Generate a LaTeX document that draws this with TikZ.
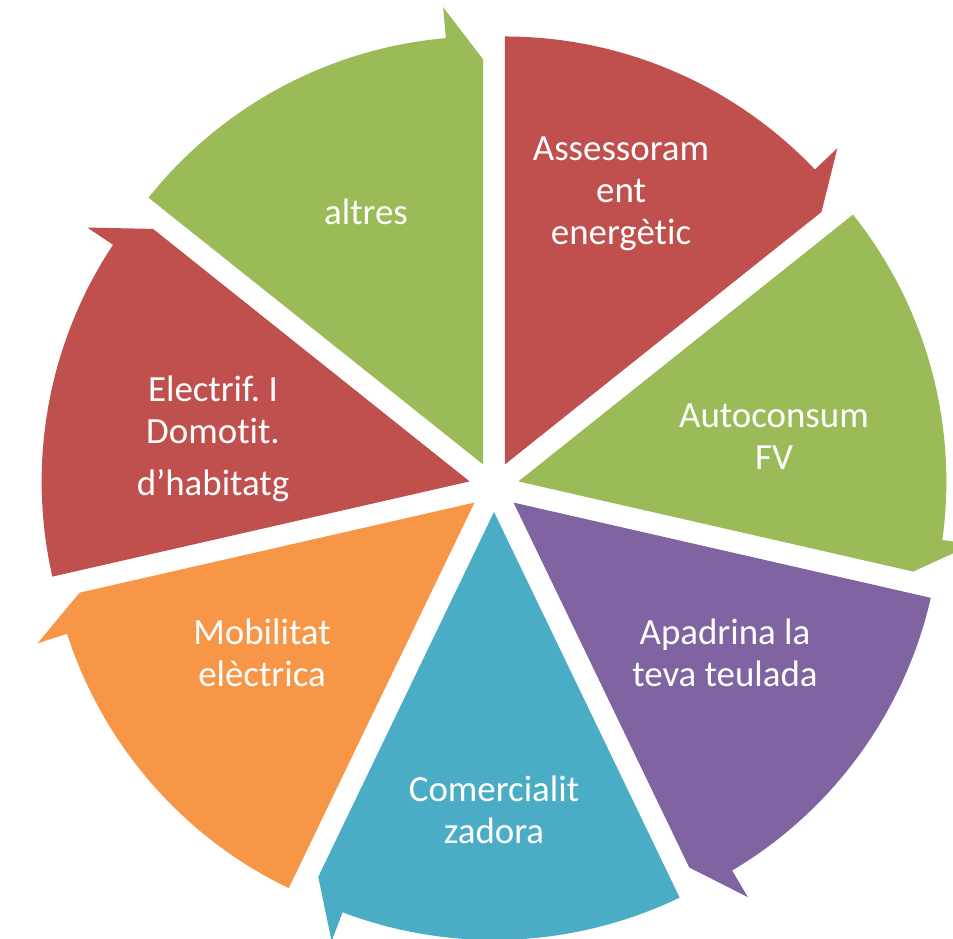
\documentclass[tikz,border=0pt]{standalone}
\usepackage{fontspec}
\setmainfont{Carlito}[Ligatures=NoCommon]
\usepackage{tikz}
\usetikzlibrary{calc}
\definecolor{segRed}{HTML}{C0504D}
\definecolor{segGreen}{HTML}{9BBB59}
\definecolor{segPurple}{HTML}{8064A2}
\definecolor{segCyan}{HTML}{4BACC6}
\definecolor{segOrange}{HTML}{F79646}
\frenchspacing

\begin{document}
\begin{tikzpicture}[x=0.02cm,y=0.02cm,
        segtext/.style={text=white,align=center,font=\fontsize{21}{24}\selectfont}]
        \useasboundingbox (0,0) rectangle (953,938);
        \coordinate (Centre) at (494,451);
        \foreach \cor [count=\k from 0] in {segGreen,segRed,segGreen,segPurple,segCyan,segOrange,segRed} {
            \pgfmathsetmacro{\ini}{141.43-51.43*\k}
            \pgfmathsetmacro{\fim}{\ini-51.43}
            \pgfmathsetmacro{\meio}{\ini-25.71}
            \fill [\cor,shift={($(Centre)+(\meio:25)$)}] (0,0) -- (\ini:428)
                arc [start angle=\ini,end angle=\fim+5,radius=428]
                -- (\fim+5:459) -- (\fim:405) -- cycle;
        }
        \node [segtext] (Altres) at (366,726) {altres};
        \node [segtext] (Assessorament) at (621,744) {Assessoram\\ent\\energètic};
        \node [segtext] (Autoconsum) at (774,501) {Autoconsum\\FV};
        \node [segtext] (Apadrina) at (725,285) {Apadrina la\\teva teulada};
        \node [segtext] (Comercialitzadora) at (494,128) {Comercialit\\zadora};
        \node [segtext] (Mobilitat) at (262,285) {Mobilitat\\elèctrica};
        \node [segtext] (Electrif) at (213,499) {Electrif. I\\Domotit.\\[0.2cm]d’habitatg};
    \end{tikzpicture}
\end{document}
